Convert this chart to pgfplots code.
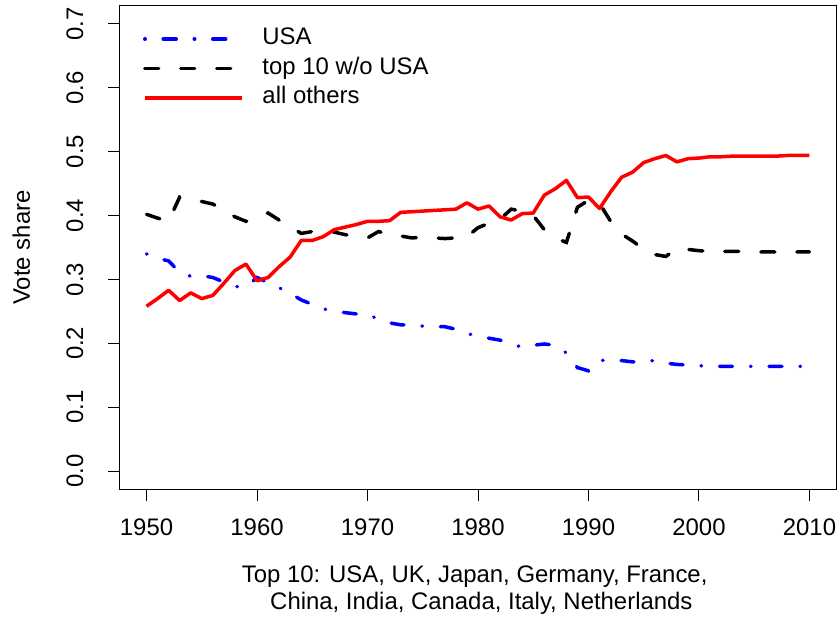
\documentclass[border=0pt]{standalone}
\usepackage{fontspec}
\setmainfont{Liberation Sans}
\usepackage{pgfplots}
\usepackage{pgfplotstable}
\pgfplotsset{compat=1.18}
\pgfplotstableread{
year usa top others
1950 0.340 0.402 0.258
1951 0.333 0.396 0.270
1952 0.329 0.391 0.283
1953 0.311 0.429 0.267
1954 0.305 0.425 0.279
1955 0.306 0.422 0.270
1956 0.303 0.418 0.275
1957 0.296 0.408 0.294
1958 0.289 0.398 0.314
1959 0.288 0.391 0.324
1960 0.303 0.398 0.298
1961 0.295 0.404 0.303
1962 0.287 0.393 0.320
1963 0.278 0.383 0.335
1964 0.268 0.372 0.361
1965 0.261 0.375 0.361
1966 0.254 0.375 0.367
1967 0.250 0.374 0.378
1968 0.248 0.370 0.382
1969 0.246 0.368 0.386
1970 0.245 0.365 0.391
1971 0.238 0.375 0.391
1972 0.232 0.370 0.392
1973 0.229 0.368 0.405
1974 0.229 0.365 0.406
1975 0.227 0.366 0.407
1976 0.226 0.365 0.408
1977 0.226 0.364 0.409
1978 0.222 0.365 0.410
1979 0.215 0.367 0.420
1980 0.212 0.381 0.410
1981 0.208 0.388 0.415
1982 0.205 0.394 0.398
1983 0.199 0.410 0.393
1984 0.194 0.407 0.403
1985 0.197 0.400 0.404
1986 0.199 0.378 0.432
1987 0.197 0.365 0.442
1988 0.185 0.358 0.455
1989 0.162 0.413 0.428
1990 0.157 0.424 0.429
1991 0.173 0.419 0.411
1992 0.174 0.391 0.437
1993 0.173 0.371 0.460
1994 0.171 0.360 0.468
1995 0.172 0.347 0.483
1996 0.173 0.339 0.489
1997 0.169 0.336 0.494
1998 0.167 0.349 0.484
1999 0.166 0.347 0.489
2000 0.165 0.345 0.490
2001 0.164 0.344 0.492
2002 0.164 0.344 0.492
2003 0.164 0.344 0.493
2004 0.164 0.344 0.493
2005 0.164 0.343 0.493
2006 0.164 0.343 0.493
2007 0.164 0.343 0.493
2008 0.164 0.343 0.494
2009 0.164 0.343 0.494
2010 0.164 0.343 0.494
}\votedata
\begin{document}
\begin{tikzpicture}
\begin{axis}[
  name=ax,
  width=716bp, height=483bp, scale only axis,
  xmin=1947.6, xmax=2012.4, ymin=-0.028, ymax=0.728,
  axis line style={line width=1bp},
  tick align=outside, major tick length=12bp,
  every tick/.style={black, line width=1bp},
  tick pos=left,
  xtick={1950,1960,1970,1980,1990,2000,2010},
  xticklabels={1950,1960,1970,1980,1990,2000,2010},
  ytick={0,0.1,0.2,0.3,0.4,0.5,0.6,0.7},
  yticklabels={0.0,0.1,0.2,0.3,0.4,0.5,0.6,0.7},
  ticklabel style={font=\fontsize{24}{28}\selectfont},
  xticklabel style={anchor=base, inner sep=0pt},
  yticklabel style={rotate=90, anchor=base, inner sep=0pt},
  xticklabel shift=34bp,
  yticklabel shift=25bp,
  ylabel={Vote share},
  ylabel style={at={(axis description cs:-0.1257,0.5)}, anchor=base, inner sep=0pt, font=\fontsize{24}{28}\selectfont},
  xlabel={Top 10: USA, UK, Japan, Germany, France,\hspace*{0.28em}\\\hspace*{0.28em}China, India, Canada, Italy, Netherlands},
  xlabel style={at={(axis description cs:0.5,-0.209)}, anchor=center, align=center, inner sep=0pt, font=\fontsize{24}{27}\selectfont},
  legend style={at={(axis description cs:0.0321,0.9545)}, anchor=north west, draw=none, fill=none, inner sep=0pt, outer sep=0pt, row sep=7.5bp, column sep=19bp, nodes={inner sep=0pt, text height=17bp, text depth=5bp, font=\fontsize{24}{28}\selectfont}},
  legend cell align=left,
  legend image code/.code={\draw[#1] (0bp,0bp) -- (97bp,0bp);},
]
\addplot[color=blue, line width=3.5bp, line cap=round, dash pattern=on 0.5bp off 18bp on 13bp off 18bp] table[x=year, y=usa] {\votedata};
\addlegendentry{USA}
\addplot[color=black, line width=3.5bp, line cap=round, dash pattern=on 14bp off 22bp] table[x=year, y=top] {\votedata};
\addlegendentry{top 10 w/o USA}
\addplot[color=red, line width=3.5bp, line join=round] table[x=year, y=others] {\votedata};
\addlegendentry{all others}
\end{axis}
\pgfresetboundingbox
\path ([shift={(-120bp,-132bp)}]ax.south west) rectangle ([shift={(4bp,6bp)}]ax.north east);
\end{tikzpicture}
\end{document}
